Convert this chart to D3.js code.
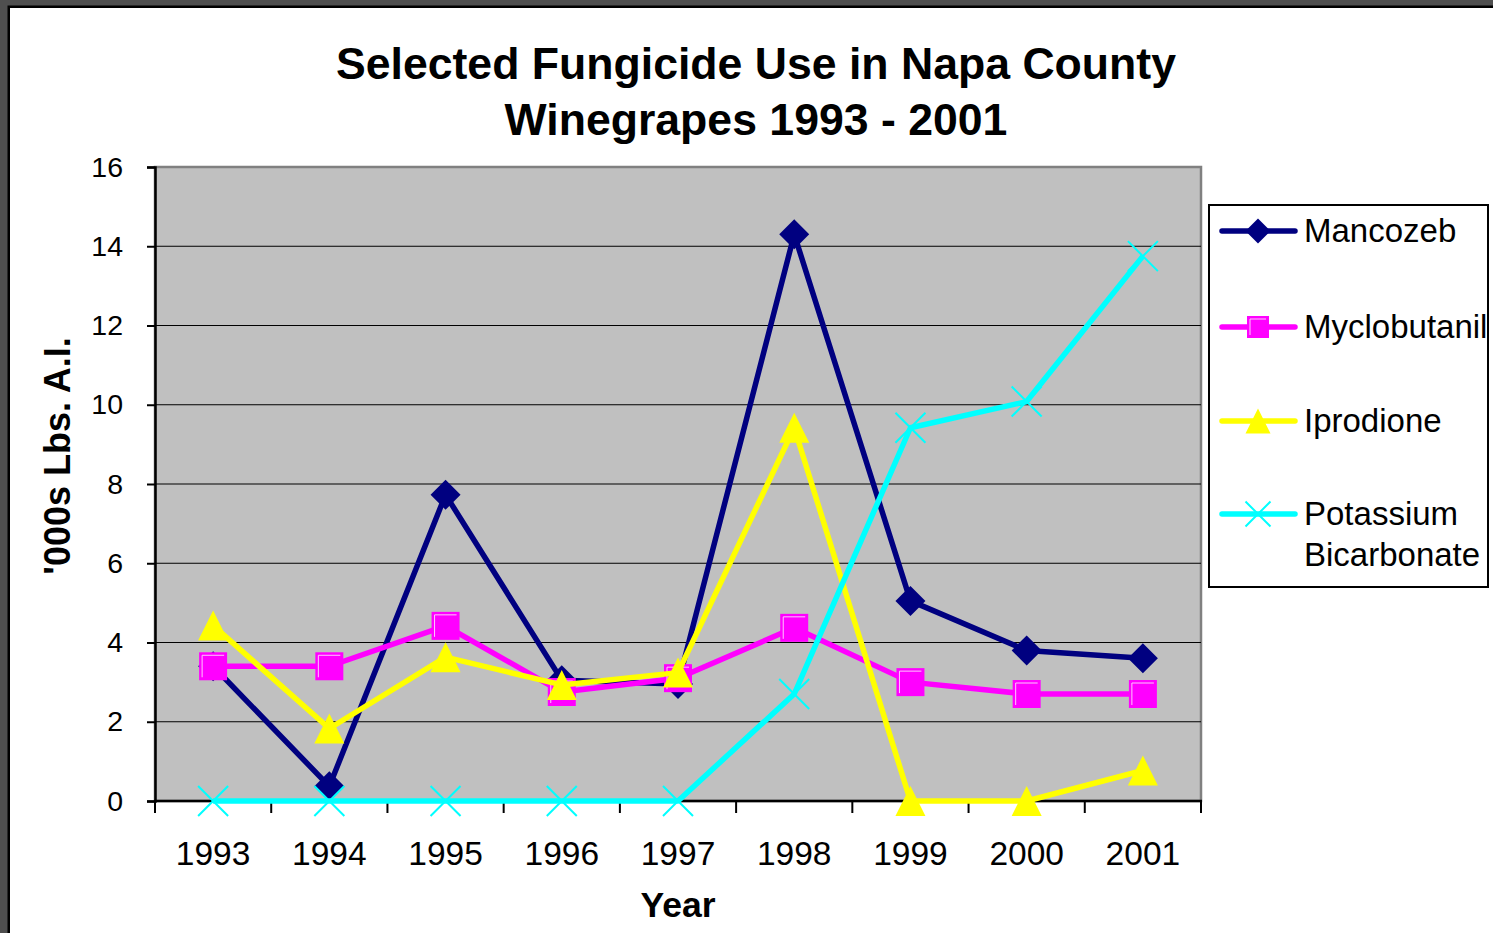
<!DOCTYPE html>
<html>
<head>
	<title>Fungicide Use</title>
	<script src="https://cdn.jsdelivr.net/npm/d3@7"></script>
	<style>
	body {
		margin: 0;
		background: #4f4f4f;
	}
	svg {
		display: block;
		font-family: "Liberation Sans", Arial, sans-serif;
	}
	</style>
</head>
<body>
	<svg></svg>
	<script>

	var years = [1993, 1994, 1995, 1996, 1997, 1998, 1999, 2000, 2001];
	var mancozeb = [3.4, 0.37, 7.73, 3.05, 2.95, 14.3, 5.05, 3.8, 3.6];
	var myclobutanil = [3.4, 3.4, 4.42, 2.75, 3.1, 4.37, 3.0, 2.7, 2.7];
	var iprodione = [4.43, 1.83, 3.63, 2.93, 3.24, 9.42, 0, 0, 0.77];
	var potassium = [0, 0, 0, 0, 0, 2.7, 9.42, 10.08, 13.75];
	var yTicks = [0, 2, 4, 6, 8, 10, 12, 14, 16];

	var series = [
		{name: ["Mancozeb"], values: mancozeb, color: "#000080", shape: "diamond"},
		{name: ["Myclobutanil"], values: myclobutanil, color: "#ff00ff", shape: "square"},
		{name: ["Iprodione"], values: iprodione, color: "#ffff00", shape: "triangle"},
		{name: ["Potassium", "Bicarbonate"], values: potassium, color: "#00ffff", shape: "cross"}
	];

	var width = 1493, height = 933;
	var plot = {left: 155, right: 1201, top: 167, bottom: 801};

	var svg = d3.select("svg")
		.attr("width", width)
		.attr("height", height);

	// white chart sheet with black edge (right/bottom run off the picture)
	svg.append("rect")
		.attr("x", 8.75).attr("y", 6.75)
		.attr("width", width + 20).attr("height", height + 20)
		.attr("fill", "#fff")
		.attr("stroke", "#000")
		.attr("stroke-width", 2.5);

	var x = d3.scaleBand().domain(years).range([plot.left, plot.right]);
	var y = d3.scaleLinear().domain([0, 16]).range([plot.bottom, plot.top]);

	// plot background
	svg.append("rect")
		.attr("x", plot.left).attr("y", plot.top)
		.attr("width", plot.right - plot.left).attr("height", plot.bottom - plot.top)
		.attr("fill", "#c0c0c0")
		.attr("stroke", "#808080")
		.attr("stroke-width", 2.5);

	//gridlines
	svg.append("g")
		.selectAll("line")
		.data(yTicks.filter(function(d) {return d > 0 && d < 16;}))
		.enter()
		.append("line")
		.attr("x1", plot.left).attr("x2", plot.right)
		.attr("y1", function(d) {return y(d);})
		.attr("y2", function(d) {return y(d);})
		.attr("stroke", "#000")
		.attr("stroke-width", 1.2);

	//y axis
	var yAxis = svg.append("g")
		.attr("transform", "translate(" + plot.left + ",0)")
		.call(d3.axisLeft(y).tickValues(yTicks).tickSize(8).tickPadding(24));
	yAxis.select(".domain").attr("stroke", "#000").attr("stroke-width", 2.5);
	yAxis.selectAll(".tick line").attr("stroke", "#000").attr("stroke-width", 2);
	yAxis.selectAll(".tick text")
		.attr("font-size", 28.5)
		.attr("fill", "#000")
		.attr("font-family", "Liberation Sans, Arial, sans-serif");

	//x axis: labels at band centres, ticks at band edges
	var xAxis = svg.append("g")
		.attr("transform", "translate(0," + plot.bottom + ")")
		.call(d3.axisBottom(x).tickSize(0));
	xAxis.select(".domain").remove();
	xAxis.selectAll(".tick text")
		.attr("y", 64)
		.attr("dy", null)
		.attr("font-size", 33.5)
		.attr("fill", "#000")
		.attr("font-family", "Liberation Sans, Arial, sans-serif");

	var edges = years.map(function(d) {return x(d);}).concat([x.range()[1]]);
	xAxis.selectAll("line.edge")
		.data(edges)
		.enter()
		.append("line")
		.attr("class", "edge")
		.attr("x1", function(d) {return d;})
		.attr("x2", function(d) {return d;})
		.attr("y1", 0).attr("y2", 12)
		.attr("stroke", "#000")
		.attr("stroke-width", 2);
	xAxis.append("line")
		.attr("x1", plot.left - 1).attr("x2", plot.right + 1)
		.attr("y1", 0).attr("y2", 0)
		.attr("stroke", "#000")
		.attr("stroke-width", 2.5);

	//marker shapes, s = half size
	function markerPath(shape, s) {
		if (shape == "diamond") return "M0," + (-s) + "L" + s + ",0L0," + s + "L" + (-s) + ",0Z";
		if (shape == "square") return "M" + (-s) + "," + (-s) + "H" + s + "V" + s + "H" + (-s) + "Z";
		if (shape == "triangle") return "M0," + (-s) + "L" + s + "," + s + "L" + (-s) + "," + s + "Z";
		return "M" + (-s) + "," + (-s) + "L" + s + "," + s + "M" + s + "," + (-s) + "L" + (-s) + "," + s;
	}

	function drawMarker(g, d, s) {
		if (d.shape == "cross") {
			g.append("path")
				.attr("d", markerPath("cross", s))
				.attr("fill", "none")
				.attr("stroke", d.color)
				.attr("stroke-width", 2);
		} else {
			g.append("path")
				.attr("d", markerPath(d.shape, s))
				.attr("fill", d.color);
			if (d.shape == "square") {
				var t = s - 3;
				g.append("path")
					.attr("d", "M" + (-t) + "," + t + "V" + (-t) + "H" + t)
					.attr("fill", "none")
					.attr("stroke", "#ffc8ff")
					.attr("stroke-width", 1);
			}
		}
	}

	var line = d3.line()
		.x(function(d, i) {return x(years[i]) + x.bandwidth() / 2;})
		.y(function(d) {return y(d);});

	var seriesG = svg.append("g")
		.selectAll("g.series")
		.data(series)
		.enter()
		.append("g")
		.attr("class", "series");

	seriesG.append("path")
		.attr("d", function(d) {return line(d.values);})
		.attr("fill", "none")
		.attr("stroke", function(d) {return d.color;})
		.attr("stroke-width", 5.5)
		.attr("stroke-linejoin", "round");

	seriesG.each(function(d) {
		var g = d3.select(this);
		d.values.forEach(function(v, i) {
			var m = g.append("g")
				.attr("transform", "translate(" + (x(years[i]) + x.bandwidth() / 2) + "," + y(v) + ")");
			drawMarker(m, d, d.shape == "square" ? 14 : 15);
		});
	});

	//titles
	svg.append("text")
		.attr("x", 756).attr("y", 79)
		.attr("text-anchor", "middle")
		.attr("font-size", 44.6).attr("font-weight", "bold")
		.text("Selected Fungicide Use in Napa County");
	svg.append("text")
		.attr("x", 756).attr("y", 135)
		.attr("text-anchor", "middle")
		.attr("font-size", 44.6).attr("font-weight", "bold")
		.text("Winegrapes 1993 - 2001");

	svg.append("text")
		.attr("x", (plot.left + plot.right) / 2).attr("y", 917)
		.attr("text-anchor", "middle")
		.attr("font-size", 35.5).attr("font-weight", "bold")
		.text("Year");

	svg.append("text")
		.attr("transform", "translate(70,456) rotate(-90)")
		.attr("text-anchor", "middle")
		.attr("font-size", 36).attr("font-weight", "bold")
		.text("'000s Lbs. A.I.");

	//legend
	var legend = svg.append("g");
	legend.append("rect")
		.attr("x", 1209).attr("y", 205)
		.attr("width", 279).attr("height", 382)
		.attr("fill", "#fff")
		.attr("stroke", "#000")
		.attr("stroke-width", 2);

	var legendY = [231, 327, 421, 514];
	var items = legend.selectAll("g.item")
		.data(series)
		.enter()
		.append("g")
		.attr("class", "item")
		.attr("transform", function(d, i) {return "translate(0," + legendY[i] + ")";});

	items.append("line")
		.attr("x1", 1222).attr("x2", 1295)
		.attr("stroke", function(d) {return d.color;})
		.attr("stroke-width", 5.5)
		.attr("stroke-linecap", "round");

	items.each(function(d) {
		var m = d3.select(this).append("g").attr("transform", "translate(1258,0)");
		drawMarker(m, d, d.shape == "square" ? 11 : 12.5);
	});

	items.append("text")
		.attr("x", 1304)
		.attr("y", 11)
		.attr("font-size", 33)
		.selectAll("tspan")
		.data(function(d) {return d.name;})
		.enter()
		.append("tspan")
		.attr("x", 1304)
		.attr("dy", function(d, i) {return i == 0 ? 0 : 41;})
		.text(function(d) {return d;});

	</script>
</body>
</html>
